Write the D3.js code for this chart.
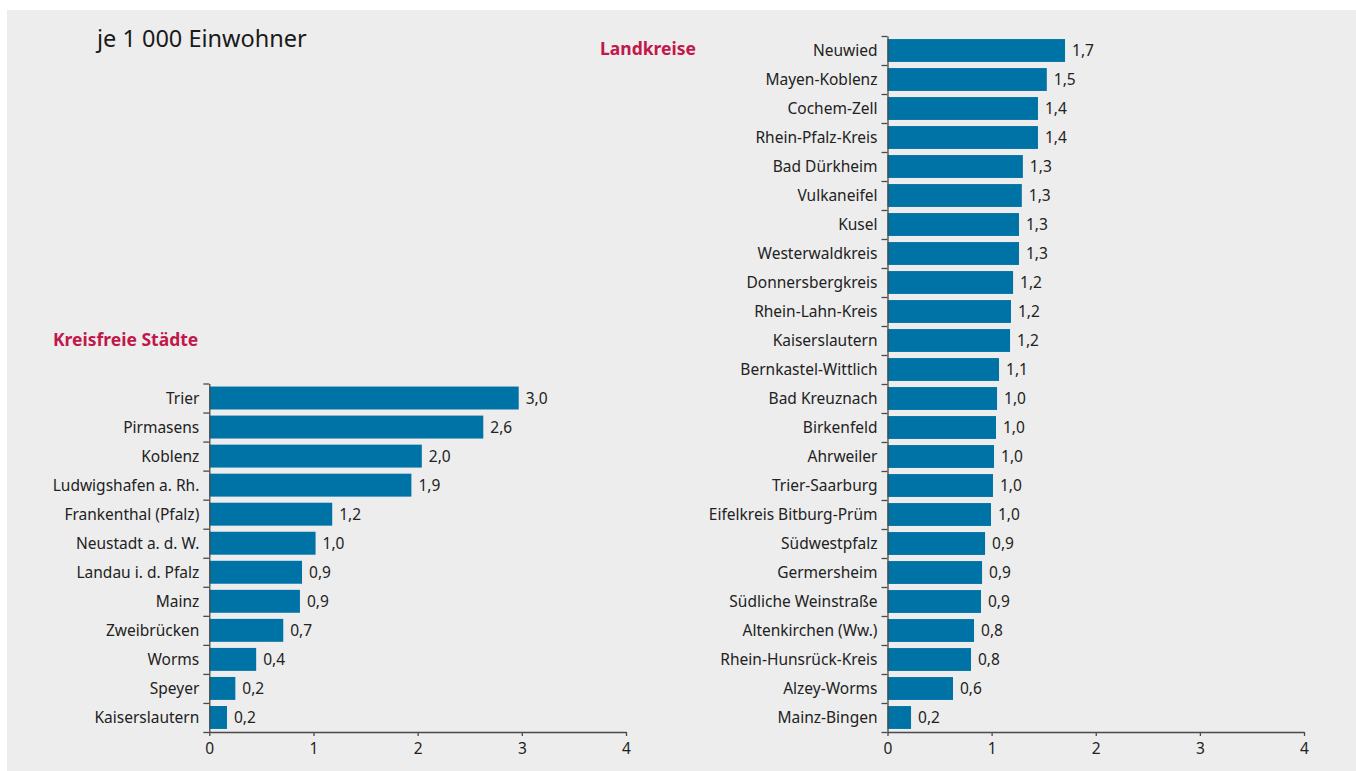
<!DOCTYPE html>
<html><head><meta charset="utf-8">
<script src="https://cdn.jsdelivr.net/npm/d3@7/dist/d3.min.js"></script>
<style>
html,body{margin:0;padding:0;background:#fff;}
svg{display:block;}
text{font-family:"Noto Sans",sans-serif;}
</style></head>
<body>
<svg id="chart" width="1356" height="771"></svg>
<script>
// ---- data ----
const cityNames = ["Trier","Pirmasens","Koblenz","Ludwigshafen a. Rh.","Frankenthal (Pfalz)","Neustadt a. d. W.","Landau i. d. Pfalz","Mainz","Zweibrücken","Worms","Speyer","Kaiserslautern"];
const cityValues = [2.97,2.63,2.04,1.94,1.18,1.02,0.89,0.87,0.71,0.45,0.25,0.17];
const cityLabels = ["3,0","2,6","2,0","1,9","1,2","1,0","0,9","0,9","0,7","0,4","0,2","0,2"];

const districtNames = ["Neuwied","Mayen-Koblenz","Cochem-Zell","Rhein-Pfalz-Kreis","Bad Dürkheim","Vulkaneifel","Kusel","Westerwaldkreis","Donnersbergkreis","Rhein-Lahn-Kreis","Kaiserslautern","Bernkastel-Wittlich","Bad Kreuznach","Birkenfeld","Ahrweiler","Trier-Saarburg","Eifelkreis Bitburg-Prüm","Südwestpfalz","Germersheim","Südliche Weinstraße","Altenkirchen (Ww.)","Rhein-Hunsrück-Kreis","Alzey-Worms","Mainz-Bingen"];
const districtValues = [1.705,1.53,1.445,1.445,1.30,1.29,1.263,1.263,1.206,1.186,1.177,1.071,1.052,1.042,1.023,1.013,0.994,0.937,0.908,0.898,0.831,0.802,0.629,0.226];
const districtLabels = ["1,7","1,5","1,4","1,4","1,3","1,3","1,3","1,3","1,2","1,2","1,2","1,1","1,0","1,0","1,0","1,0","1,0","0,9","0,9","0,9","0,8","0,8","0,6","0,2"];

const xTicks = [0,1,2,3,4];
const xTickLabels = ["0","1","2","3","4"];
const titleText = "je 1 000 Einwohner";
const cityTitle = "Kreisfreie Städte";
const districtTitle = "Landkreise";

// ---- drawing ----
const svg = d3.select("#chart");
svg.append("rect").attr("x",7).attr("y",10).attr("width",1356-7).attr("height",771-10).attr("fill","#ededed");

svg.append("text").attr("x",97).attr("y",47).style("font-size","23.5px").style("fill","#1a1a1a").text(titleText);

const barColor = "#0073a6";
const axisColor = "#4a4a4a";
const textColor = "#222";

function panel(names, values, labels, x0, x1, y0, y1, title, titleX, titleY){
  const g = svg.append("g");
  const x = d3.scaleLinear().domain([0,4]).range([x0,x1]);
  const y = d3.scaleBand().domain(names).range([y0,y1]).paddingInner(0.21).paddingOuter(0.105);
  const yb = d3.scaleLinear().domain([0,names.length]).range([y0,y1]);

  g.selectAll("rect.bar").data(names).join("rect").attr("class","bar")
    .attr("x",x(0)).attr("y",d=>y(d))
    .attr("width",(d,i)=>x(values[i])-x(0)).attr("height",y.bandwidth())
    .attr("fill",barColor);

  g.selectAll("text.val").data(names).join("text").attr("class","val")
    .attr("x",(d,i)=>x(values[i])+7).attr("y",d=>y(d)+y.bandwidth()/2)
    .attr("dy","0.36em").style("font-size","15.5px").style("fill",textColor).text((d,i)=>labels[i]);

  g.selectAll("text.cat").data(names).join("text").attr("class","cat")
    .attr("x",x0-10).attr("y",d=>y(d)+y.bandwidth()/2)
    .attr("dy","0.36em").attr("text-anchor","end").style("font-size","15.5px").style("fill",textColor).text(d=>d);

  // y axis with ticks at band boundaries
  const ya = g.append("g").attr("transform",`translate(${x0},0)`)
    .call(d3.axisLeft(yb).tickValues(d3.range(0,names.length+1)).tickSize(6).tickSizeOuter(0).tickFormat(""));
  ya.selectAll("path,line").attr("stroke",axisColor).attr("stroke-width",1.3);

  const xa = g.append("g").attr("transform",`translate(0,${y1})`)
    .call(d3.axisBottom(x).tickValues(xTicks).tickSize(4).tickSizeOuter(0).tickPadding(7).tickFormat((d,i)=>xTickLabels[i]));
  xa.selectAll("path,line").attr("stroke",axisColor).attr("stroke-width",1.3);
  xa.selectAll("text").style("font-size","15.5px").style("fill",textColor).style("font-family","'Noto Sans',sans-serif");

  svg.append("text").attr("x",titleX).attr("y",titleY).style("font-size","17.5px").style("font-weight","bold")
    .style("fill","#c2174a").text(title);
}

panel(cityNames, cityValues, cityLabels, 209.3, 626, 383.5, 732, cityTitle, 53, 346);
panel(districtNames, districtValues, districtLabels, 887.5, 1304, 36, 732, districtTitle, 600, 55);
</script>
</body></html>
